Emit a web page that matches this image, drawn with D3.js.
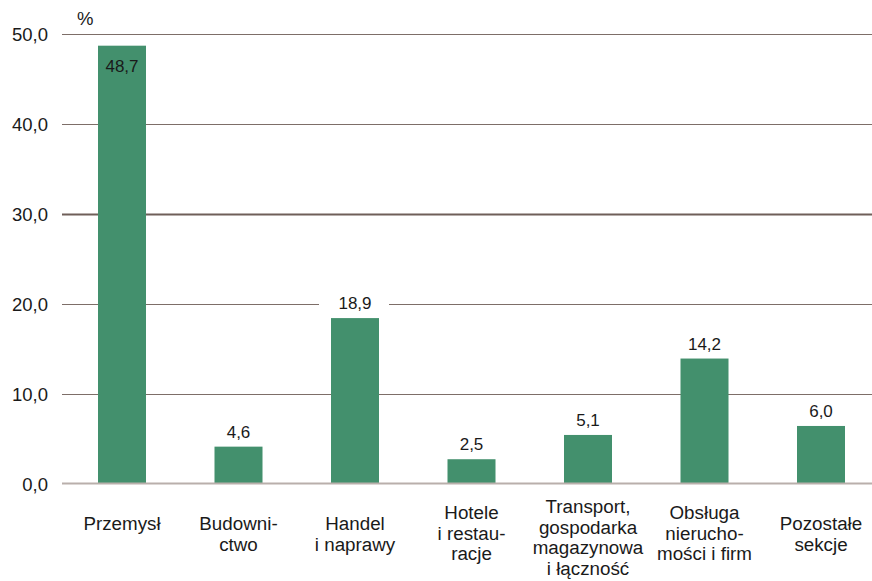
<!DOCTYPE html>
<html><head><meta charset="utf-8">
<script src="https://cdn.jsdelivr.net/npm/d3@7"></script>
<style>
html,body{margin:0;padding:0;background:#fff;}
svg{display:block;font-family:"Liberation Sans",Arial,sans-serif;}
</style></head>
<body><svg id="chart" width="872" height="581"></svg>
<script>
const categories = ["Przemysł","Budownictwo","Handel i naprawy","Hotele i restauracje","Transport, gospodarka magazynowa i łączność","Obsługa nieruchomości i firm","Pozostałe sekcje"];
const categoryLines = [["Przemysł"],["Budowni-","ctwo"],["Handel","i naprawy"],["Hotele","i restau-","racje"],["Transport,","gospodarka","magazynowa","i łączność"],["Obsługa","nierucho-","mości i firm"],["Pozostałe","sekcje"]];
const barValues = [48.7, 4.1, 18.4, 2.7, 5.4, 13.9, 6.4];
const valueLabels = ["48,7","4,6","18,9","2,5","5,1","14,2","6,0"];
const yTicks = [0,10,20,30,40,50];
const unitLabel = "%";

const svg = d3.select("#chart");
const left = 62, right = 872;
const y = d3.scaleLinear().domain([0,50]).range([483.5,34]);
const x = d3.scaleBand().domain(categories).range([63.75, 63.75+7*116.5]).paddingInner(0.588).paddingOuter(0.294);

const fmt = v => d3.format(".1f")(v).replace(".", ",");

// gridlines
const grid = svg.append("g");
grid.selectAll("line").data(yTicks.filter(d=>d>0)).join("line")
  .attr("x1", left).attr("x2", right)
  .attr("y1", d=>Math.round(y(d))+0.5).attr("y2", d=>Math.round(y(d))+0.5)
  .attr("stroke", d=> d===30 ? "#6f5f59" : "#7d6e68")
  .attr("stroke-width", d=> d===30 ? 2 : 1);

// y tick labels via axis
const yAxis = d3.axisLeft(y).tickValues(yTicks).tickFormat(fmt).tickSize(0).tickPadding(0);
const ya = svg.append("g").attr("transform","translate(48,0)").call(yAxis);
ya.select(".domain").remove();
ya.selectAll("text").attr("font-size",18.5).attr("fill","#1a1a1a")
  .attr("font-family","'Liberation Sans',Arial,sans-serif").attr("dy","0.36em");

svg.append("text").attr("x",77).attr("y",25).attr("font-size",18.5).attr("fill","#1a1a1a").text(unitLabel);

// bars
svg.append("g").selectAll("rect").data(categories).join("rect")
  .attr("x", d=>x(d)).attr("width", x.bandwidth())
  .attr("y", (d,i)=>y(barValues[i])).attr("height", (d,i)=>y(0)-y(barValues[i]))
  .attr("fill","#43906d");

// baseline
svg.append("line").attr("x1",left).attr("x2",right).attr("y1",y(0)).attr("y2",y(0))
  .attr("stroke","#b9afab").attr("stroke-width",2);

// value labels
const vl = svg.append("g");
categories.forEach((c,i)=>{
  const cx = x(c)+x.bandwidth()/2;
  const top = y(barValues[i]);
  const inside = barValues[i] > 45;
  const by = inside ? top+26 : top-9;
  if(!inside){
    vl.append("rect").attr("x",cx-36).attr("y",by-16).attr("width",70).attr("height",21).attr("fill","#fff");
  }
  vl.append("text").attr("x",cx).attr("y",by).attr("text-anchor","middle")
    .attr("font-size",17).attr("fill","#1a1a1a").text(valueLabels[i]);
});

// category labels
const cl = svg.append("g");
categories.forEach((c,i)=>{
  const lines = categoryLines[i];
  const n = lines.length;
  const base = n<=2 ? 530 : 531 - 6*(n-1);
  const t = cl.append("text").attr("text-anchor","middle").attr("font-size",18.8).attr("fill","#1a1a1a");
  lines.forEach((ln,j)=>{
    t.append("tspan").attr("x", x(c)+x.bandwidth()/2).attr("y", base + j*20.5).text(ln);
  });
});
</script></body></html>
